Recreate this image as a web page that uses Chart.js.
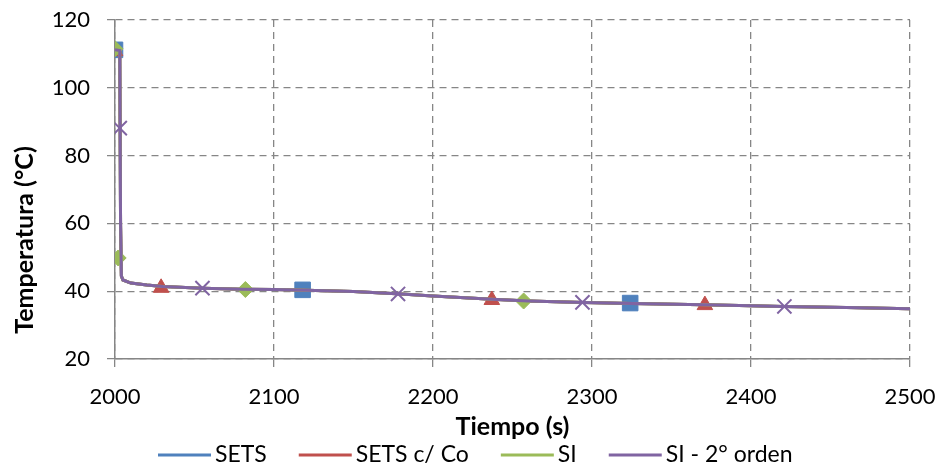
<!DOCTYPE html>
<html>
<head>
<meta charset="utf-8">
<script src="https://cdn.jsdelivr.net/npm/chart.js@4.4.1/dist/chart.umd.min.js"></script>
<style>
  html, body { margin: 0; padding: 0; background: #fff; }
  #wrap { width: 939px; height: 468px; }
</style>
</head>
<body>
<div id="wrap"><canvas id="tempChart" width="939" height="468"></canvas></div>
<script>
// Curva de temperatura
const tiempo = [2000, 2003, 2003.5, 2004, 2005, 2010, 2020, 2030, 2055, 2080, 2100, 2120, 2150, 2180, 2200, 2237, 2260, 2295, 2325, 2370, 2400, 2420, 2460, 2500];
const tempSETS   = [111.2, 111.0, 60, 44.5, 43.3, 42.4, 41.8, 41.4, 40.9, 40.6, 40.5, 40.3, 39.9, 39.2, 38.6, 37.6, 37.1, 36.7, 36.4, 36.0, 35.7, 35.5, 35.2, 34.8];
const tempSETSCo = [111.2, 111.0, 60, 44.5, 43.3, 42.4, 41.8, 41.4, 40.9, 40.6, 40.5, 40.3, 39.9, 39.2, 38.6, 37.6, 37.1, 36.7, 36.4, 36.0, 35.7, 35.5, 35.2, 34.8];
const tempSI     = [111.2, 111.0, 60, 44.5, 43.3, 42.4, 41.8, 41.4, 40.9, 40.6, 40.5, 40.3, 39.9, 39.2, 38.6, 37.6, 37.1, 36.7, 36.4, 36.0, 35.7, 35.5, 35.2, 34.8];
const tempSI2    = [111.2, 111.0, 60, 44.5, 43.3, 42.4, 41.8, 41.4, 40.9, 40.6, 40.5, 40.3, 39.9, 39.2, 38.6, 37.6, 37.1, 36.7, 36.4, 36.0, 35.7, 35.5, 35.2, 34.8];

// Marcadores
const mkSETS_t   = [2000, 2118, 2324];
const mkSETS_y   = [111.2, 40.4, 36.5];
const mkSETSCo_t = [2000, 2029, 2237, 2371];
const mkSETSCo_y = [110.8, 41.0, 37.4, 35.9];
const mkSI_t     = [2000, 2002, 2082, 2257];
const mkSI_y     = [111.5, 49.8, 40.5, 37.1];
const mkSI2_t    = [2003, 2055, 2178, 2294, 2421];
const mkSI2_y    = [88.1, 40.9, 39.2, 36.7, 35.5];

const nombres = ['SETS', 'SETS c/ Co', 'SI', 'SI - 2° orden'];
const xTicks = [2000, 2100, 2200, 2300, 2400, 2500];
const yTicks = [20, 40, 60, 80, 100, 120];
const tituloX = 'Tiempo (s)';
const tituloY = 'Temperatura (°C)';

const colores = ['#4F81BD', '#C0504D', '#9BBB59', '#8064A2'];
const estilos = ['rect', 'triangle', 'rectRot', 'crossRot'];
const radios = [11, 9, 8, 10];

const lineas = [tempSETS, tempSETSCo, tempSI, tempSI2];
const marcas = [[mkSETS_t, mkSETS_y], [mkSETSCo_t, mkSETSCo_y], [mkSI_t, mkSI_y], [mkSI2_t, mkSI2_y]];

const pares = (xs, ys) => xs.map((x, i) => ({ x: x, y: ys[i] }));

const datasets = [];
nombres.forEach((nombre, i) => {
    datasets.push({
        label: nombre,
        data: pares(tiempo, lineas[i]),
        borderColor: colores[i],
        backgroundColor: colores[i],
        borderWidth: 3,
        pointRadius: 0,
        tension: 0,
        order: 20 - i * 2
    });
});
nombres.forEach((nombre, i) => {
    datasets.push({
        label: nombre + ' (marcas)',
        data: pares(marcas[i][0], marcas[i][1]),
        showLine: false,
        pointStyle: estilos[i],
        pointRadius: radios[i],
        pointBorderWidth: estilos[i] === 'crossRot' ? 2 : 1,
        pointBackgroundColor: colores[i],
        pointBorderColor: colores[i],
        order: 19 - i * 2
    });
});

const gris = '#868686';
const fuente = 'Lato, "Open Sans", sans-serif';

// leyenda estilo Excel (línea + texto) y título vertical desplazado como en el original
const extras = {
    id: 'extras',
    afterDraw(chart) {
        const ctx = chart.ctx;
        ctx.save();
        ctx.font = '23px ' + fuente;
        ctx.textBaseline = 'middle';
        ctx.textAlign = 'left';
        const linea = 53, hueco = 4, sep = 32;
        let x = 158;
        const y = 455;
        nombres.forEach((n, i) => {
            ctx.fillStyle = colores[i];
            ctx.fillRect(x, y - 1.5, linea, 3);
            x += linea + hueco;
            ctx.fillStyle = '#000';
            ctx.fillText(n, x, y);
            x += ctx.measureText(n).width + sep;
        });

        ctx.font = 'bold 25px ' + fuente;
        ctx.textAlign = 'center';
        ctx.translate(25, 240);
        ctx.rotate(-Math.PI / 2);
        ctx.fillText(tituloY, 0, 0);
        ctx.restore();
    }
};

new Chart(document.getElementById('tempChart'), {
    type: 'line',
    data: { datasets: datasets },
    plugins: [extras],
    options: {
        responsive: false,
        animation: false,
        layout: { padding: { left: 0, right: 29, top: 20, bottom: 19 } },
        plugins: {
            tooltip: { enabled: false },
            legend: { display: false }
        },
        scales: {
            x: {
                type: 'linear',
                min: 2000,
                max: 2500,
                afterBuildTicks: s => { s.ticks = xTicks.map(v => ({ value: v })); },
                afterFit: s => { s.height = 90; s.paddingLeft = 0; s.paddingRight = 0; },
                grid: { color: gris, lineWidth: 1.3, tickLength: 8, tickBorderDash: [1, 0], tickColor: gris },
                border: { color: gris, width: 1.5, dash: [7, 5] },
                ticks: { font: { family: fuente, size: 22 }, color: '#000', padding: 17, maxRotation: 0, callback: v => String(v) },
                title: { display: true, text: tituloX, font: { family: fuente, size: 25, weight: 'bold' }, color: '#000', padding: { top: 0, bottom: 7 } }
            },
            y: {
                type: 'linear',
                min: 20,
                max: 120,
                afterBuildTicks: s => { s.ticks = yTicks.map(v => ({ value: v })); },
                afterFit: s => { s.width = 115; s.paddingTop = 0; s.paddingBottom = 0; },
                grid: { color: gris, lineWidth: 1.3, tickLength: 8, tickBorderDash: [1, 0], tickColor: gris },
                border: { color: gris, width: 1.5, dash: [7, 5] },
                ticks: { font: { family: fuente, size: 22 }, color: '#000', padding: 17, callback: v => String(v) }
            }
        }
    }
});
</script>
</body>
</html>
